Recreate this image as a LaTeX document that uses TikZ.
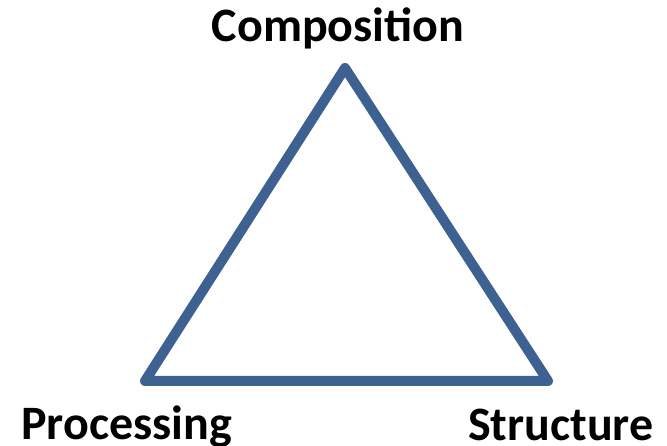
\documentclass[tikz,border=0pt]{standalone}
\usepackage{fontspec}
\setmainfont{Carlito}
\definecolor{tri}{HTML}{3D6191}
\begin{document}
\begin{tikzpicture}[x=1pt,y=-1pt,
  lbl/.style={inner sep=0pt,font=\fontsize{48}{57}\selectfont\bfseries},
  edge/.style={draw=tri,line width=10pt,line join=round,line cap=round}]
\useasboundingbox (0,0) rectangle (667,446);
\coordinate (top) at (345,68);
\coordinate (bl) at (145,381);
\coordinate (br) at (548,381);
\draw[edge] (top) -- (bl) -- (br) -- cycle;
\node[lbl,anchor=base] (comp) at (338,41.5) {Composition};
\node[lbl,anchor=base west] (proc) at (21,439) {Processing};
\node[lbl,anchor=base west] (struc) at (468,440) {Structure};
\end{tikzpicture}
\end{document}
